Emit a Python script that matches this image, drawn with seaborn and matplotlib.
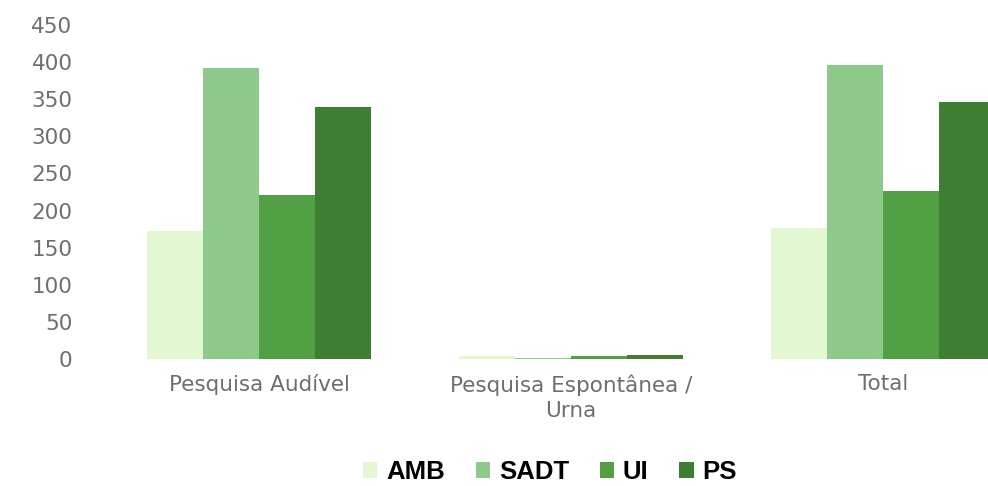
import matplotlib
matplotlib.use("Agg")
import matplotlib.pyplot as plt
import seaborn as sns
import pandas as pd
from matplotlib.patches import Patch

# Survey results by channel and service type
categories = ["Pesquisa Audível", "Pesquisa Espontânea /\nUrna", "Total"]
series = ["AMB", "SADT", "UI", "PS"]
amb = [172, 4, 177]
sadt = [392, 1, 396]
ui = [221, 4, 226]
ps = [340, 6, 346]
colors = ["#e3f8d2", "#8cc98a", "#52a043", "#3d7e33"]
yticks = [0, 50, 100, 150, 200, 250, 300, 350, 400, 450]

rows = []
for name, vals in zip(series, [amb, sadt, ui, ps]):
    for cat, v in zip(categories, vals):
        rows.append({"categoria": cat, "serie": name, "valor": v})
df = pd.DataFrame(rows)

sns.set_theme(style="white")
fig = plt.figure(figsize=(9.88, 4.86), dpi=100)
ax = fig.add_axes([103 / 988, 127 / 486, 936 / 988, 334 / 486])

sns.barplot(data=df, x="categoria", y="valor", hue="serie", order=categories,
            hue_order=series, palette=colors, saturation=1, width=0.72,
            gap=0, linewidth=0, legend=False, ax=ax)

ax.set_xlim(-0.5, 2.5)
ax.set_ylim(0, 450)
ax.set_yticks(yticks)
ax.set_xlabel("")
ax.set_ylabel("")
for s in ax.spines.values():
    s.set_visible(False)
ax.tick_params(axis="both", length=0, colors="#6e6e6e", labelsize=15.5)
ax.tick_params(axis="y", pad=22)
ax.tick_params(axis="x", pad=11)
for lbl in ax.get_xticklabels():
    lbl.set_linespacing(1.35)
for lbl in ax.get_xticklabels() + ax.get_yticklabels():
    lbl.set_fontfamily("DejaVu Sans")

handles = [Patch(facecolor=c, edgecolor="none", label=s) for c, s in zip(colors, series)]
fig.legend(handles=handles, loc="center", bbox_to_anchor=(550 / 988, 14 / 486),
           ncol=4, frameon=False, handlelength=0.55, handleheight=0.55,
           handletextpad=0.35, columnspacing=1.2, labelcolor="black",
           prop={"family": "Liberation Sans", "weight": "bold", "size": 18.5})

fig.savefig("out.png", dpi=100)
